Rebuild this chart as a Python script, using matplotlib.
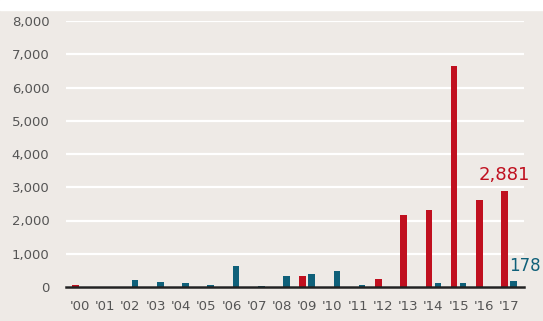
import matplotlib.pyplot as plt
import numpy as np

# 연도별 값 (빨강 / 파랑 두 계열)
years = ["'00", "'01", "'02", "'03", "'04", "'05", "'06", "'07", "'08",
         "'09", "'10", "'11", "'12", "'13", "'14", "'15", "'16", "'17"]
red_vals = [70, 0, 0, 0, 0, 0, 0, 0, 15,
            340, 0, 0, 240, 2170, 2320, 6650, 2630, 2881]
blue_vals = [0, 0, 210, 160, 110, 70, 620, 30, 330,
             390, 470, 60, 0, 0, 130, 130, 0, 178]
y_ticks = [0, 1000, 2000, 3000, 4000, 5000, 6000, 7000, 8000]

RED = '#c0101f'
BLUE = '#0f6079'
BG = '#eeeae6'

fig = plt.figure(figsize=(5.43, 3.21), dpi=100, facecolor=BG)
# 위쪽 흰 띠
fig.patches.append(plt.Rectangle((0, 311 / 321), 1, 10 / 321, transform=fig.transFigure,
                                  color='white', zorder=0))

ax = fig.add_axes([66 / 543, 34 / 321, 458 / 543, 266 / 321])
ax.set_facecolor(BG)

x = np.arange(len(years))
w = 0.26
ax.bar(x - 0.18, red_vals, width=w, color=RED, zorder=3)
ax.bar(x + 0.18, blue_vals, width=w, color=BLUE, zorder=3)

ax.set_xlim(-0.555, 17.59)
ax.set_ylim(0, 8000)
ax.set_yticks(y_ticks)
ax.set_yticklabels(['{:,}'.format(v) for v in y_ticks])
ax.set_xticks(x)
ax.set_xticklabels(years)
ax.tick_params(length=0, labelsize=9.5, colors='#555555')
ax.tick_params(axis='y', pad=12)
ax.tick_params(axis='x', pad=9)

ax.grid(axis='y', color='white', linewidth=1.6, zorder=1)
for s in ax.spines.values():
    s.set_visible(False)
ax.axhline(0, color='#222222', linewidth=1.8, zorder=4, clip_on=False)

# 마지막 연도 값 표시
ax.text(x[-1] - 0.18, red_vals[-1] + 220, '{:,}'.format(red_vals[-1]),
        color=RED, fontsize=13, ha='center', va='bottom')
ax.text(x[-1] + 0.02, blue_vals[-1] + 170, '{:,}'.format(blue_vals[-1]),
        color=BLUE, fontsize=12, ha='left', va='bottom', clip_on=False)

fig.savefig('out.png', dpi=100, facecolor=BG)
